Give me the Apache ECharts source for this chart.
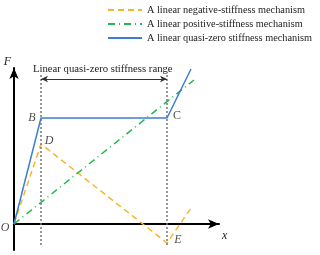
<!DOCTYPE html>
<html><head><meta charset="utf-8">
<script src="https://cdn.jsdelivr.net/npm/echarts@6/dist/echarts.min.js"></script>
<style>html,body{margin:0;padding:0;background:#fff}#c{width:320px;height:255px}</style>
</head><body><div id="c"></div>
<script>
// Data (x: displacement units, y: force units)
var negX = [0, 27, 153, 177];     // O -> D -> E -> end
var negY = [0, 80, -19, 16];
var posX = [0, 180];              // linear positive stiffness
var posY = [0, 144];
var qzsX = [0, 27, 153, 177];     // O -> B -> C -> end
var qzsY = [0, 106, 106, 155];
var rangeX = [27, 153];           // quasi-zero range bounds
var rangeYBottom = -21, rangeYTop = 149, arrowY = 145;
var pointNames = ['B', 'C', 'D', 'E', 'O'];
var pointX = [27, 153, 27, 153, 0];
var pointY = [106, 106, 80, -19, 0];
var seriesNames = ['A linear negative-stiffness mechanism', 'A linear positive-stiffness mechanism', 'A linear quasi-zero stiffness mechanism'];
var rangeTitle = 'Linear quasi-zero stiffness range';

function pts(xs, ys){ return xs.map(function(x,i){return [x, ys[i]];}); }
var serif = 'Liberation Serif';
var labelOffsets = {B:[-9,0], C:[10,-2], D:[8,-3], E:[11,-3], O:[-9,4]};

var chart = echarts.init(document.getElementById('c'));
chart.setOption({
  animation: false,
  grid: {left: 14, top: 68, width: 205, height: 182},
  xAxis: {type: 'value', min: 0, max: 205, splitLine:{show:false}, axisTick:{show:false}, axisLabel:{show:false},
    axisLine:{onZero:true, lineStyle:{color:'#000', width:2}, symbol:['none','arrow'], symbolSize:[7,11]},
    name: 'x', nameLocation:'end', nameGap: 3, nameTextStyle:{fontFamily:serif, fontStyle:'italic', fontSize:12, color:'#222', verticalAlign:'top', padding:[6,0,0,0]}},
  yAxis: {type: 'value', min: -26, max: 156, splitLine:{show:false}, axisTick:{show:false}, axisLabel:{show:false},
    axisLine:{onZero:true, lineStyle:{color:'#000', width:2}, symbol:['none','arrow'], symbolSize:[7,11]},
    name: 'F', nameLocation:'end', nameGap: 0, nameTextStyle:{fontFamily:serif, fontStyle:'italic', fontSize:12, color:'#222', align:'right', padding:[0,3,0,0]}},
  legend: {orient:'vertical', left: 102, top: 0, itemGap: 4, itemWidth: 34, itemHeight: 10,
    itemStyle:{opacity:0},
    textStyle:{fontFamily:serif, fontSize:10.3, color:'#222'}, data: seriesNames},
  title: {text: rangeTitle, left: 28, top: 59, textStyle:{fontFamily:serif, fontSize:10.7, fontWeight:'normal', color:'#222'}},
  series: [
    {name: seriesNames[0], type:'line', data: pts(negX, negY), symbol:'none', color:'#f6b62b',
      lineStyle:{color:'#f6b62b', width:1.5, type:[6,4]}},
    {name: seriesNames[1], type:'line', data: pts(posX, posY), symbol:'none', color:'#22b84f',
      lineStyle:{color:'#22b84f', width:1.5, type:[7,4,1,4]}},
    {name: seriesNames[2], type:'line', data: pts(qzsX, qzsY), symbol:'none', color:'#3b7fd2',
      lineStyle:{color:'#3b7fd2', width:1.5}},
    {type:'line', data: [[rangeX[0], rangeYBottom],[rangeX[0], rangeYTop]], symbol:'none', silent:true,
      lineStyle:{color:'#777', width:1.5, type:[2,2]}},
    {type:'line', data: [[rangeX[1], rangeYBottom],[rangeX[1], rangeYTop]], symbol:'none', silent:true,
      lineStyle:{color:'#777', width:1.5, type:[2,2]},
      markLine:{silent:true, symbol:['arrow','arrow'], symbolSize:[5,7], lineStyle:{color:'#333', width:1, type:'solid'},
        label:{show:false}, data:[[{coord:[rangeX[0], arrowY]},{coord:[rangeX[1], arrowY]}]]}},
    {type:'scatter', symbolSize:0, silent:true,
      data: pointNames.map(function(n,i){ return {value:[pointX[i], pointY[i]], name:n,
        label:{show:true, formatter:n, offset: labelOffsets[n], position:'inside', fontFamily:serif, fontStyle: n==='C'?'normal':'italic', fontSize:12, color:'#222'}}; })}
  ]
});
</script></body></html>
